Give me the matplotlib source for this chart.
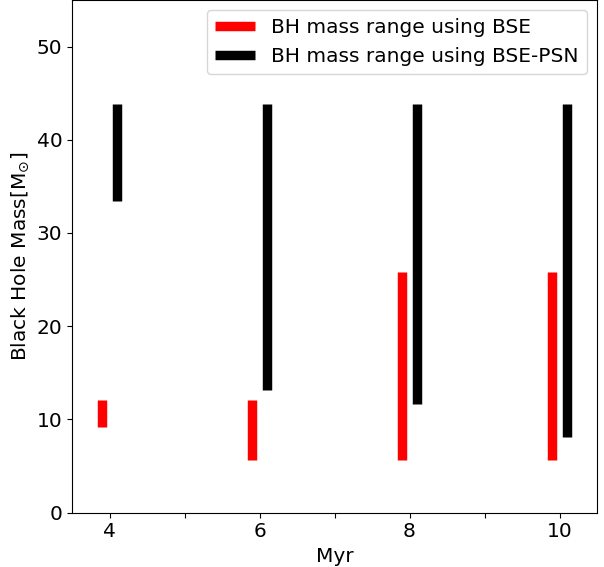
import matplotlib
matplotlib.use("Agg")
import matplotlib.pyplot as plt

times = [4, 6, 8, 10]
bse_low = [9.2, 5.6, 5.6, 5.6]
bse_high = [12.1, 12.1, 25.8, 25.8]
psn_low = [33.4, 13.1, 11.6, 8.1]
psn_high = [43.8, 43.8, 43.8, 43.8]
offset = 0.1

fig = plt.figure(figsize=(6.04, 5.67), dpi=100)
ax = fig.add_axes([72/604, (567-512.5)/567, (597-72)/604, 512.5/567])

fs = 14.5
ax.vlines([t - offset for t in times], bse_low, bse_high, colors='red', lw=6.8,
          label='BH mass range using BSE')
ax.vlines([t + offset for t in times], psn_low, psn_high, colors='black', lw=6.8,
          label='BH mass range using BSE-PSN')

ax.set_xlim(3.5, 10.5)
ax.set_ylim(0, 55)
ax.set_xticks([4, 5, 6, 7, 8, 9, 10])
ax.set_xticklabels(['4', '', '6', '', '8', '', '10'])
ax.set_yticks([0, 10, 20, 30, 40, 50])
ax.tick_params(labelsize=fs)
ax.set_xlabel('Myr', fontsize=fs)
ax.set_ylabel(r'Black Hole Mass[M$_{\odot}$]', fontsize=fs)
ax.legend(loc='upper right', fontsize=fs)

fig.savefig('out.png', dpi=100)
